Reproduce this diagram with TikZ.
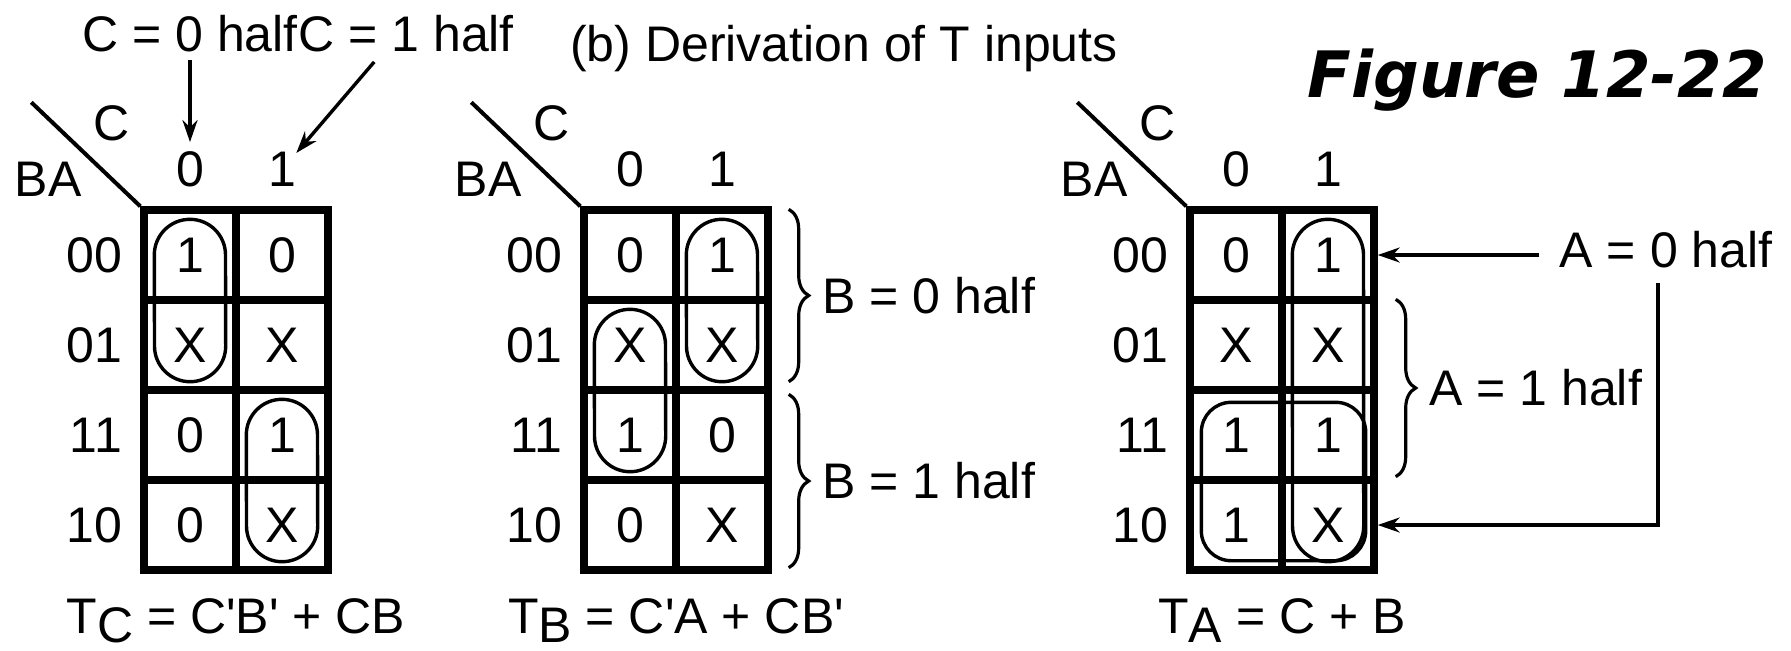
\documentclass[tikz,border=0pt]{standalone}
\usepackage{fontspec}
\setmainfont{Liberation Sans}
\newfontfamily\figfont{DejaVu Sans Bold Oblique}
\usetikzlibrary{positioning, arrows.meta, calc, decorations.pathreplacing}
\newcommand{\prm}{\textquotesingle}
% pill-shaped loop from the top cell #1 to the bottom cell #2
\newcommand{\pill}[2]{%
  \draw[ring] ($(#1.north west)+(14,48.6)$)
    arc[start angle=180, end angle=0, radius=17.8pt]
    -- ($(#2.south east)+(-14,-47.6)$)
    arc[start angle=0, end angle=-180, radius=17.8pt] -- cycle;}

\begin{document}
\begin{tikzpicture}[
  x=0.5pt, y=-0.5pt,
  font=\fontsize{25}{30}\selectfont,
  kcell/.style={draw, line width=3.7pt, minimum width=46pt,
    minimum height=45pt, inner sep=0pt},
  lbl/.style={inner sep=0pt},
  ring/.style={line width=1.7pt},
  arrow/.style={-{Stealth[length=11pt, width=7.5pt]}, line width=1.7pt},
  diag/.style={line width=2pt},
  brc/.style={decorate, decoration={brace, amplitude=10pt}, line width=1.6pt},
]
  \useasboundingbox (0,0) rectangle (1791,650);

  % T_C map
  \foreach \r/\p/\q in {0/1/0, 1/X/X, 2/0/1, 3/0/X} {
    \node[kcell] (tc\r0) at (190, {255+90*\r}) {\p};
    \node[kcell] (tc\r1) at (282, {255+90*\r}) {\q};
  }
  \pill{tc00}{tc10}
  \pill{tc21}{tc31}
  \node[lbl, anchor=base] (tcF) at ($(tc30.south)!0.5!(tc31.south)+(0,60)$)
    {T\raisebox{-4.5pt}{C} = C\prm B\prm{} + CB};

  % T_B map
  \foreach \r/\p/\q in {0/0/1, 1/X/X, 2/1/0, 3/0/X} {
    \node[kcell] (tb\r0) at (630, {255+90*\r}) {\p};
    \node[kcell] (tb\r1) at (722, {255+90*\r}) {\q};
  }
  \pill{tb01}{tb11}
  \pill{tb10}{tb20}
  \node[lbl, anchor=base] (tbF) at ($(tb30.south)!0.5!(tb31.south)+(0,60)$)
    {T\raisebox{-4.5pt}{B} = C\prm A + CB\prm};
  \draw[brc] ($(tb01.north east)+(17,3)$) -- ($(tb11.south east)+(17,-12)$)
    node[lbl, midway, right=16pt] (b0half) {B = 0 half};
  \draw[brc] ($(tb21.north east)+(17,8)$) -- ($(tb31.south east)+(17,-6)$)
    node[lbl, midway, right=16pt] (b1half) {B = 1 half};

  % T_A map
  \foreach \r/\p/\q in {0/0/1, 1/X/X, 2/1/1, 3/1/X} {
    \node[kcell] (ta\r0) at (1236, {255+90*\r}) {\p};
    \node[kcell] (ta\r1) at (1328, {255+90*\r}) {\q};
  }
  \pill{ta01}{ta31}
  \draw[ring, rounded corners=15pt] ($(ta20.north west)+(15,16)$)
    rectangle ($(ta31.south east)+(-12,-13)$);
  \node[lbl, anchor=base] (taF) at ($(ta30.south)!0.5!(ta31.south)+(0,60)$)
    {T\raisebox{-4.5pt}{A} = C + B};
  \draw[brc] ($(ta11.north east)+(18,3)$) -- ($(ta21.south east)+(18,-7)$)
    node[lbl, midway, right=16pt] (a1half) {A = 1 half};
  \node[lbl, inner xsep=10pt, inner ysep=7pt] (a0half) at (1666,250) {A = 0 half};
  \draw[arrow] (ta01.east -| a0half.west) -- (ta01.east);
  \draw[arrow] ([xshift=-4pt]a0half.south) |- (ta31.east);

  % Headers and row labels
  \foreach \m in {tc, tb, ta} {
    \foreach \r/\lab in {0/00, 1/01, 2/11, 3/10}
      \node[lbl, left=9pt of \m\r0] (\m R\r) {\lab};
    \node[lbl, above=9.5pt of \m00] (\m H0) {0};
    \node[lbl, above=9.5pt of \m01] (\m H1) {1};
    \node[lbl] (\m C) at ($(\m00.north west)+(-29,-83)$) {C};
    \node[lbl] (\m BA) at ($(\m00.north west)+(-92,-27)$) {BA};
    \draw[diag] (\m00.north west) -- ++(-109,-104);
  }

  % Titles
  \node[lbl, anchor=base] (c0half) at (190,51) {C = 0 half};
  \node[lbl, anchor=base west] (c1half) at (c0half.base east) {C = 1 half};
  \draw[arrow] ([yshift=-4pt]c0half.south) -- ([yshift=4.5pt]tcH0.north);
  \draw[arrow] ([xshift=-16pt, yshift=-5pt]c1half.south) -- (tcH1);
  \node[lbl, anchor=base] (deriv) at (844,61) {(b) Derivation of T inputs};
  \node[lbl, anchor=base, font=\figfont\fontsize{32}{38}\selectfont] (fig)
    at (1537,97) {Figure 12-22};
\end{tikzpicture}
\end{document}
